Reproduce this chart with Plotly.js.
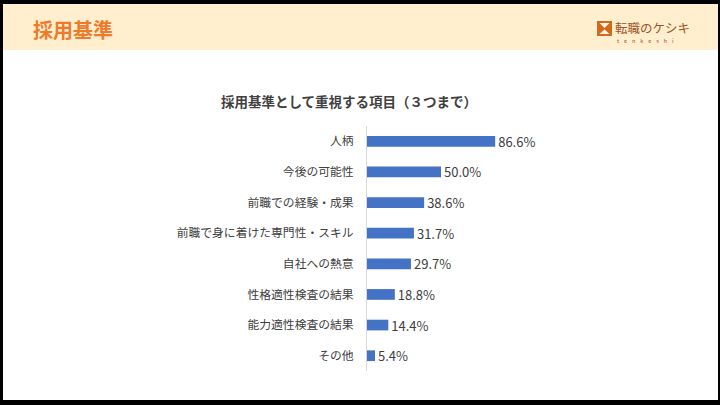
<!DOCTYPE html>
<html><head><meta charset="utf-8">
<script src="https://cdn.plot.ly/plotly-3.0.1.min.js"></script>
<style>html,body{margin:0;padding:0;background:#fff;overflow:hidden}#c{width:720px;height:405px}</style>
</head><body><div id="c"></div>
<script>
const categories = ["人柄","今後の可能性","前職での経験・成果","前職で身に着けた専門性・スキル","自社への熱意","性格適性検査の結果","能力適性検査の結果","その他"];
const values = [86.6, 50.0, 38.6, 31.7, 29.7, 18.8, 14.4, 5.4];
const valueLabels = ["86.6%","50.0%","38.6%","31.7%","29.7%","18.8%","14.4%","5.4%"];
const pageTitle = "採用基準";
const chartTitle = "採用基準として重視する項目（３つまで）";
const logoText = "転職のケシキ";
const logoSub = "t e n k e s h i";

const W=720,H=405,L=367,R=205,T=126,B=34;
const PW=W-L-R, PH=H-T-B;
const px=x=>(x-L)/PW, py=y=>(H-B-y)/PH;
const FONT='"Noto Sans CJK JP", "Noto Sans", sans-serif';

const rect=(x0,y0,x1,y1,color,layer)=>({type:'rect',xref:'paper',yref:'paper',x0:px(x0),x1:px(x1),y0:py(y1),y1:py(y0),fillcolor:color,line:{width:0},layer:layer||'below'});
const path=(pts,color)=>({type:'path',xref:'paper',yref:'paper',path:'M'+pts.map(p=>px(p[0])+','+py(p[1])).join(' L')+' Z',fillcolor:color,line:{width:0},layer:'above'});

const shapes=[
  rect(0,4,720,50,'#FFEFCF'),
  rect(0,0,720,4,'#000','above'),
  rect(0,400,720,405,'#000','above'),
  rect(0,0,3,405,'#000','above'),
  rect(718,0,720,405,'#000','above'),
  rect(597,21,612,36,'#D2691E','above'),
  path([[599.5,23],[609.5,23],[604.5,28]],'#FFF5E0'),
  path([[599.5,34],[609.5,34],[604.5,29.5]],'#FFF5E0')
];

const annotations=[
  {text:'<b>'+pageTitle+'</b>',xref:'paper',yref:'paper',x:px(31),y:py(30),xanchor:'left',yanchor:'middle',showarrow:false,font:{family:FONT,size:20,color:'#EE7B2C'}},
  {text:'<b>'+chartTitle+'</b>',xref:'paper',yref:'paper',x:px(349),y:py(101),xanchor:'center',yanchor:'middle',showarrow:false,font:{family:FONT,size:13.5,color:'#404040'}},
  {text:logoText,xref:'paper',yref:'paper',x:px(613),y:py(27),xanchor:'left',yanchor:'middle',showarrow:false,font:{family:FONT,size:12.5,color:'#A0521E'}},
  {text:logoSub.split(' ').join('&nbsp;&nbsp;&nbsp;&nbsp;'),xref:'paper',yref:'paper',x:px(615),y:py(41),xanchor:'left',yanchor:'middle',showarrow:false,font:{family:FONT,size:5.5,color:'#A0521E'}}
];

Plotly.newPlot('c',[{
  type:'bar',orientation:'h',x:values,y:categories,
  marker:{color:'#4472C4',line:{width:0}},
  width:0.35,
  text:valueLabels,textposition:'outside',cliponaxis:false,constraintext:'none',
  textfont:{family:FONT,size:13,color:'#404040'},
  hoverinfo:'none'
}],{
  width:W,height:H,margin:{l:L,r:R,t:T,b:B,pad:0},
  paper_bgcolor:'#fff',plot_bgcolor:'rgba(0,0,0,0)',
  showlegend:false,
  xaxis:{range:[0,100],showgrid:false,zeroline:false,showticklabels:false,showline:false,fixedrange:true},
  yaxis:{type:'category',autorange:'reversed',showgrid:false,zeroline:false,showline:true,linecolor:'#D9D9D9',linewidth:1,
    ticks:'',ticklabelstandoff:10,tickfont:{family:FONT,size:11.8,color:'#404040'},fixedrange:true},
  shapes:shapes,annotations:annotations
},{displayModeBar:false,staticPlot:true});
</script></body></html>
